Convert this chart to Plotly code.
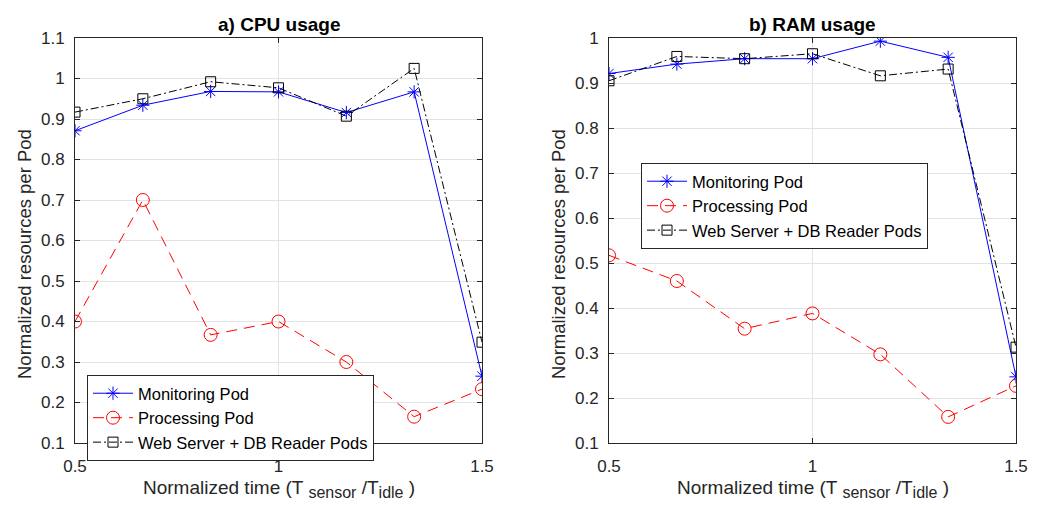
import plotly.graph_objects as go

x_vals = [0.5, 0.6667, 0.8333, 1.0, 1.1667, 1.3333, 1.5]

cpu_monitoring = [0.871, 0.934, 0.968, 0.967, 0.916, 0.967, 0.265]
cpu_processing = [0.400, 0.700, 0.367, 0.400, 0.300, 0.165, 0.233]
cpu_web = [0.917, 0.950, 0.992, 0.977, 0.907, 1.025, 0.349]

ram_monitoring = [0.921, 0.942, 0.954, 0.954, 0.993, 0.957, 0.247]
ram_processing = [0.517, 0.460, 0.354, 0.388, 0.297, 0.158, 0.227]
ram_web = [0.905, 0.959, 0.954, 0.965, 0.916, 0.931, 0.313]

x_ticks = [0.5, 1, 1.5]
x_ticktext = ["0.5", "1", "1.5"]
cpu_yticks = [0.1, 0.2, 0.3, 0.4, 0.5, 0.6, 0.7, 0.8, 0.9, 1.0, 1.1]
cpu_yticktext = ["0.1", "0.2", "0.3", "0.4", "0.5", "0.6", "0.7", "0.8", "0.9", "1", "1.1"]
ram_yticks = [0.1, 0.2, 0.3, 0.4, 0.5, 0.6, 0.7, 0.8, 0.9, 1.0]
ram_yticktext = ["0.1", "0.2", "0.3", "0.4", "0.5", "0.6", "0.7", "0.8", "0.9", "1"]

names = ["Monitoring Pod", "Processing Pod", "Web Server + DB Reader Pods"]
FONT = "Liberation Sans, Arial, sans-serif"

fig = go.Figure()

def add_series(xa, ya, legend, data):
    mon, proc, web = data
    fig.add_trace(go.Scatter(x=x_vals, y=mon, name=names[0], mode="lines+markers",
                             line=dict(color="#0000ff", width=1),
                             marker=dict(symbol="asterisk-open", size=11, color="#0000ff",
                                         line=dict(color="#0000ff", width=1)),
                             xaxis=xa, yaxis=ya, legend=legend))
    fig.add_trace(go.Scatter(x=x_vals, y=proc, name=names[1], mode="lines+markers",
                             line=dict(color="#ff0000", width=1, dash="11px,7px"),
                             marker=dict(symbol="circle-open", size=13, color="#ff0000",
                                         line=dict(color="#ff0000", width=1)),
                             xaxis=xa, yaxis=ya, legend=legend))
    fig.add_trace(go.Scatter(x=x_vals, y=web, name=names[2], mode="lines+markers",
                             line=dict(color="#000000", width=1, dash="8px,3px,2px,3px"),
                             marker=dict(symbol="square-open", size=10, color="#000000",
                                         line=dict(color="#000000", width=1)),
                             xaxis=xa, yaxis=ya, legend=legend))

add_series("x", "y", "legend", (cpu_monitoring, cpu_processing, cpu_web))
add_series("x2", "y2", "legend2", (ram_monitoring, ram_processing, ram_web))

ydom = [1 - 443 / 505, 1 - 38 / 505]
axis_common = dict(showline=True, linecolor="#262626", linewidth=1, mirror="ticks",
                   ticks="inside", ticklen=5, tickcolor="#262626", automargin=False,
                   showgrid=True, gridcolor="#e3e3e3", gridwidth=1, zeroline=False,
                   tickfont=dict(family=FONT, size=17, color="#262626"))

legend_common = dict(xanchor="left", yanchor="top",
                     bgcolor="white", bordercolor="#262626", borderwidth=1,
                     font=dict(family=FONT, size=16.5, color="#000000"),
                     tracegroupgap=0, itemwidth=40)

fig.update_layout(
    width=1041, height=505, autosize=False,
    margin=dict(l=0, r=0, t=0, b=0, autoexpand=False),
    paper_bgcolor="white", plot_bgcolor="white",
    font=dict(family=FONT, color="#262626"),
    xaxis=dict(domain=[75 / 1041, 482 / 1041], range=[0.5, 1.5], tickvals=x_ticks,
               ticktext=x_ticktext, anchor="y", ticklabelstandoff=8, **axis_common),
    yaxis=dict(domain=ydom, range=[0.1, 1.1], tickvals=cpu_yticks, ticktext=cpu_yticktext,
               anchor="x", ticklabelstandoff=6, **axis_common),
    xaxis2=dict(domain=[609 / 1041, 1016 / 1041], range=[0.5, 1.5], tickvals=x_ticks,
                ticktext=x_ticktext, anchor="y2", ticklabelstandoff=8, **axis_common),
    yaxis2=dict(domain=ydom, range=[0.1, 1.0], tickvals=ram_yticks, ticktext=ram_yticktext,
                anchor="x2", ticklabelstandoff=6, **axis_common),
    legend=dict(x=87 / 1041, y=1 - 375 / 505, **legend_common),
    legend2=dict(x=641 / 1041, y=1 - 163 / 505, **legend_common),
    showlegend=True,
)

def ann(text, xpx, ypx, size, angle=0, color="#262626"):
    return dict(text=text, x=xpx / 1041, y=1 - ypx / 505, xref="paper", yref="paper",
                xanchor="center", yanchor="middle", showarrow=False, textangle=angle,
                font=dict(family=FONT, size=size, color=color))

xt = ("Normalized time (T <sub><span style=\"font-size:16px\">sensor</span></sub> "
      "/T<sub><span style=\"font-size:16px\">idle</span></sub> )")
annotations = [
    ann("<b>a) CPU usage</b>", (75 + 482) / 2, 24, 19, color="#000000"),
    ann("<b>b) RAM usage</b>", (609 + 1016) / 2, 24, 19, color="#000000"),
    ann(xt, (75 + 482) / 2, 489, 19),
    ann(xt, (609 + 1016) / 2, 489, 19),
    ann("Normalized resources per Pod", 24, 254, 18.5, angle=-90),
    ann("Normalized resources per Pod", 558, 254, 18.5, angle=-90),
]
fig.update_layout(annotations=annotations)

fig.write_html("out.html", post_script="document.body.style.margin='0';")
